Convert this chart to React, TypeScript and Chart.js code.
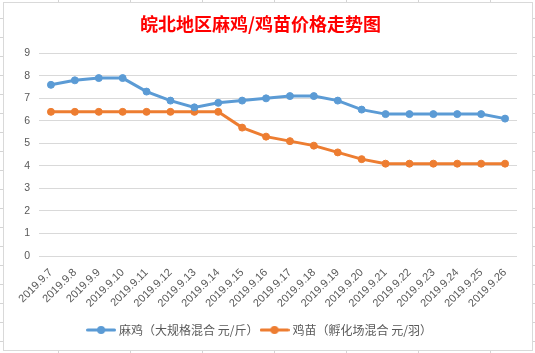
import React, { useEffect, useRef } from "react";
import { Chart, registerables } from "chart.js";

Chart.register(...registerables);

const titleText = "皖北地区麻鸡/鸡苗价格走势图";
const categories = [
  "2019.9.7", "2019.9.8", "2019.9.9", "2019.9.10", "2019.9.11", "2019.9.12", "2019.9.13",
  "2019.9.14", "2019.9.15", "2019.9.16", "2019.9.17", "2019.9.18", "2019.9.19", "2019.9.20",
  "2019.9.21", "2019.9.22", "2019.9.23", "2019.9.24", "2019.9.25", "2019.9.26",
];
const seriesNames = ["麻鸡（大规格混合 元/斤）", "鸡苗（孵化场混合 元/羽）"];
const broilerPrices = [7.6, 7.8, 7.9, 7.9, 7.3, 6.9, 6.6, 6.8, 6.9, 7.0, 7.1, 7.1, 6.9, 6.5, 6.3, 6.3, 6.3, 6.3, 6.3, 6.1];
const chickPrices = [6.4, 6.4, 6.4, 6.4, 6.4, 6.4, 6.4, 6.4, 5.7, 5.3, 5.1, 4.9, 4.6, 4.3, 4.1, 4.1, 4.1, 4.1, 4.1, 4.1];
const yMin = 0;
const yMax = 9;
const yStep = 1;

const seriesColors = ["#5B9BD5", "#ED7D31"];

function makeLegendIcon(color: string): HTMLCanvasElement {
  const c = document.createElement("canvas");
  c.width = 30;
  c.height = 10;
  const ctx = c.getContext("2d")!;
  ctx.strokeStyle = color;
  ctx.lineWidth = 3;
  ctx.lineCap = "round";
  ctx.beginPath();
  ctx.moveTo(1.5, 5);
  ctx.lineTo(28.5, 5);
  ctx.stroke();
  ctx.fillStyle = color;
  ctx.beginPath();
  ctx.arc(15, 5, 4, 0, Math.PI * 2);
  ctx.fill();
  return c;
}

export default function App() {
  const canvasRef = useRef<HTMLCanvasElement | null>(null);

  useEffect(() => {
    if (!canvasRef.current) return;
    const icons = seriesColors.map(makeLegendIcon);
    const yFont = { family: "'Liberation Sans', Arial, sans-serif", size: 10.5 };
    const xFont = { family: "'Liberation Sans', Arial, sans-serif", size: 11 };
    const chart = new Chart(canvasRef.current, {
      type: "line",
      data: {
        labels: categories,
        datasets: [
          {
            label: seriesNames[0],
            data: broilerPrices,
            borderColor: seriesColors[0],
            backgroundColor: seriesColors[0],
            pointBackgroundColor: seriesColors[0],
            pointBorderColor: seriesColors[0],
            borderWidth: 3,
            pointRadius: 3.5,
            pointBorderWidth: 1,
            tension: 0,
          },
          {
            label: seriesNames[1],
            data: chickPrices,
            borderColor: seriesColors[1],
            backgroundColor: seriesColors[1],
            pointBackgroundColor: seriesColors[1],
            pointBorderColor: seriesColors[1],
            borderWidth: 3,
            pointRadius: 3.5,
            pointBorderWidth: 1,
            tension: 0,
          },
        ],
      },
      options: {
        responsive: false,
        animation: false,
        layout: { padding: { left: 0, right: 15, top: 0, bottom: 4 } },
        plugins: {
          title: {
            display: true,
            text: titleText,
            color: "#FF0000",
            font: { family: "'Noto Sans CJK SC', sans-serif", size: 18, weight: "bold" },
            padding: { top: 10, bottom: 18.7 },
          },
          legend: {
            display: true,
            position: "bottom",
            labels: {
              usePointStyle: true,
              pointStyleWidth: 24,
              boxHeight: 12,
              padding: 4,
              color: "#595959",
              font: { family: "'Noto Sans CJK SC', sans-serif", size: 12 },
              generateLabels: (ch: any) => {
                const items = (Chart.defaults.plugins.legend.labels as any).generateLabels(ch);
                return items.map((it: any, i: number) => ({ ...it, pointStyle: icons[i] }));
              },
            },
          },
          tooltip: { enabled: false },
        },
        scales: {
          x: {
            offset: true,
            grid: { display: false },
            border: { display: false },
            ticks: {
              color: "#595959",
              font: xFont,
              minRotation: 45,
              maxRotation: 45,
              autoSkip: false,
              padding: 2,
            },
            afterFit: (s: any) => {
              s.height = 64;
            },
          },
          y: {
            min: yMin,
            max: yMax,
            grid: { color: "#D9D9D9", lineWidth: 1, drawTicks: false },
            border: { display: false },
            ticks: {
              stepSize: yStep,
              color: "#595959",
              font: yFont,
              padding: 9,
            },
            afterFit: (s: any) => {
              s.width = 35;
            },
          },
        },
      } as any,
    });
    return () => chart.destroy();
  }, []);

  return (
    <div>
      <div
        style={{
          position: "fixed",
          left: 0,
          top: 0,
          width: 535,
          height: 353,
          backgroundColor: "#ffffff",
          backgroundImage:
            "linear-gradient(to right, #D4D4D4 1px, transparent 1px), linear-gradient(to bottom, #D4D4D4 1px, transparent 1px)",
          backgroundSize: "72px 100%, 100% 19px",
          backgroundPosition: "58px 0, 0 18px",
        }}
      />
      <div
        style={{
          position: "fixed",
          left: 3,
          top: 2,
          width: 530,
          height: 349,
          boxSizing: "border-box",
          border: "1px solid #D9D9D9",
          background: "#ffffff",
        }}
      >
        <canvas ref={canvasRef} width={528} height={347} style={{ display: "block", width: 528, height: 347 }} />
      </div>
    </div>
  );
}
